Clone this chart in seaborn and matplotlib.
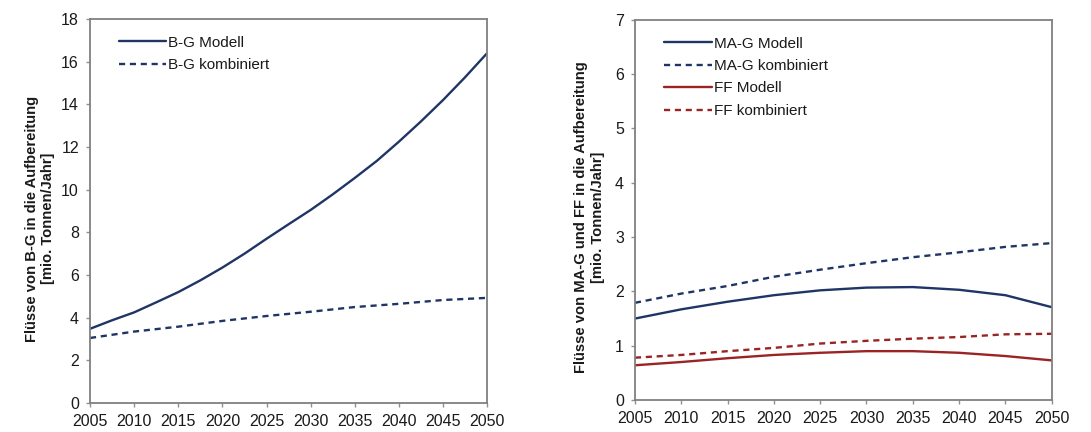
import numpy as np
import pandas as pd
import matplotlib
matplotlib.use("Agg")
import matplotlib.pyplot as plt
import seaborn as sns

years = [2005, 2010, 2015, 2020, 2025, 2030, 2035, 2040, 2045, 2050]
years_fine = [2005, 2007.5, 2010, 2012.5, 2015, 2017.5, 2020, 2022.5, 2025, 2027.5,
              2030, 2032.5, 2035, 2037.5, 2040, 2042.5, 2045, 2047.5, 2050]

bg_modell = [3.48, 3.88, 4.25, 4.72, 5.2, 5.75, 6.35, 7.0, 7.7, 8.38,
             9.05, 9.78, 10.55, 11.35, 12.25, 13.2, 14.2, 15.27, 16.4]
bg_kombiniert = [3.05, 3.35, 3.58, 3.85, 4.08, 4.28, 4.5, 4.65, 4.83, 4.93]

mag_modell = [1.50, 1.67, 1.81, 1.93, 2.02, 2.07, 2.08, 2.03, 1.93, 1.71]
mag_kombiniert = [1.79, 1.96, 2.10, 2.27, 2.40, 2.52, 2.63, 2.72, 2.82, 2.89]
ff_modell = [0.64, 0.70, 0.77, 0.83, 0.87, 0.90, 0.90, 0.87, 0.81, 0.73]
ff_kombiniert = [0.78, 0.83, 0.90, 0.96, 1.04, 1.09, 1.13, 1.16, 1.21, 1.22]

left_ylabel = "Flüsse von B-G in die Aufbereitung\n[mio. Tonnen/Jahr]"
right_ylabel = "Flüsse von MA-G und FF in die Aufbereitung\n[mio. Tonnen/Jahr]"

NAVY = "#1f3566"
RED = "#9a2424"

sns.set_theme(style="white")
plt.rcParams["font.family"] = ["Liberation Sans", "DejaVu Sans"]

def long_form(series):
    rows = []
    for name, (xs, vals) in series.items():
        for x, v in zip(xs, vals):
            rows.append({"Jahr": x, "Wert": v, "Serie": name})
    return pd.DataFrame(rows)

fig = plt.figure(figsize=(10.91, 4.32), dpi=100)
ax1 = fig.add_axes([0.0825, 0.067, 0.364, 0.889])
ax2 = fig.add_axes([0.582, 0.074, 0.382, 0.880])

left = {"B-G Modell": (years_fine, bg_modell),
        "B-G kombiniert": (years, bg_kombiniert)}
right = {"MA-G Modell": (years, mag_modell),
         "MA-G kombiniert": (years, mag_kombiniert),
         "FF Modell": (years, ff_modell),
         "FF kombiniert": (years, ff_kombiniert)}

dash = (2.6, 2.0)
sns.lineplot(data=long_form(left), x="Jahr", y="Wert", hue="Serie", style="Serie",
             palette={"B-G Modell": NAVY, "B-G kombiniert": NAVY},
             dashes={"B-G Modell": "", "B-G kombiniert": dash},
             linewidth=1.7, ax=ax1)
sns.lineplot(data=long_form(right), x="Jahr", y="Wert", hue="Serie", style="Serie",
             palette={"MA-G Modell": NAVY, "MA-G kombiniert": NAVY,
                      "FF Modell": RED, "FF kombiniert": RED},
             dashes={"MA-G Modell": "", "MA-G kombiniert": dash,
                     "FF Modell": "", "FF kombiniert": dash},
             linewidth=1.7, ax=ax2)

for ax, ymax, step, label, lx in [(ax1, 18, 2, left_ylabel, -0.087),
                                   (ax2, 7, 1, right_ylabel, -0.073)]:
    ax.set_xlim(2005, 2050)
    ax.set_ylim(0, ymax)
    ax.set_xticks(years)
    ax.set_yticks(np.arange(0, ymax + 1, step))
    ax.set_xlabel("")
    ax.set_ylabel(label, fontsize=10.6, fontweight="bold", color="#1a1a1a")
    ax.yaxis.set_label_coords(lx, 0.48)
    for s in ax.spines.values():
        s.set_color("#808080")
        s.set_linewidth(1.3)
    ax.tick_params(axis="both", which="major", labelsize=11.5, colors="#909090",
                   labelcolor="#1a1a1a", length=3, width=1, direction="out",
                   left=True, bottom=True)
    ax.tick_params(axis="x", pad=5)
    ax.tick_params(axis="y", pad=5)
    leg = ax.legend(loc="upper left", frameon=False, fontsize=11,
                    handlelength=3.1, handletextpad=0.15, labelspacing=0.55,
                    borderaxespad=0.7, bbox_to_anchor=(0.03, 1.0))
    for t in leg.get_texts():
        t.set_color("#1a1a1a")

fig.savefig("out.png", dpi=100)
